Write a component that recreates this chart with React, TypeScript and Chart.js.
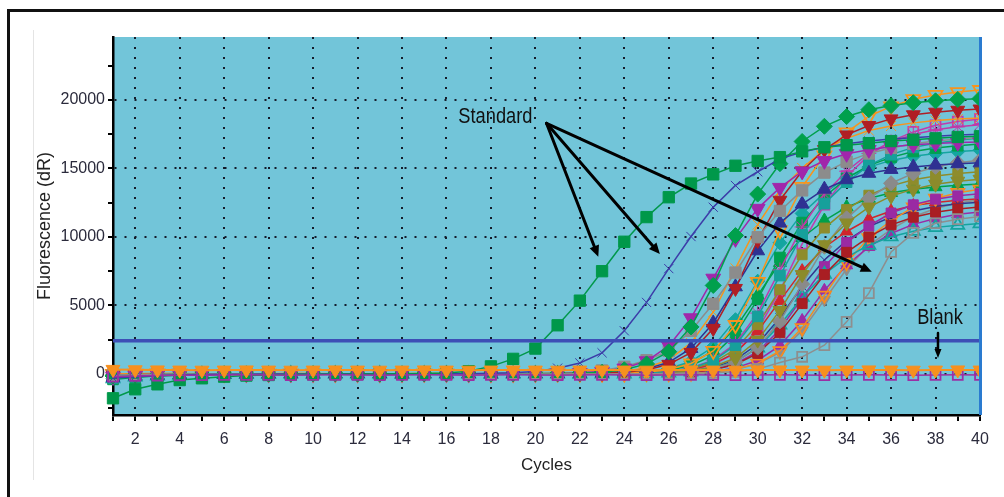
import React, { useEffect, useRef } from 'react';
import { Chart, registerables } from 'chart.js';

Chart.register(...registerables);

// ---------------- data ----------------
const cycles = [1,2,3,4,5,6,7,8,9,10,11,12,13,14,15,16,17,18,19,20,21,22,23,24,25,26,27,28,29,30,31,32,33,34,35,36,37,38,39,40];
const xLabelCycles = [2,4,6,8,10,12,14,16,18,20,22,24,26,28,30,32,34,36,38,40];
const yTickValues = [-2500,0,2500,5000,7500,10000,12500,15000,17500,20000,22500];
const yLabelValues = [0,5000,10000,15000,20000];
const thresholdValue = 2420;

// standards
const std1 = [-1780,-1120,-760,-450,-320,-200,-120,-80,-50,-30,-20,-10,0,10,30,60,200,550,1100,1850,3550,5350,7500,9650,11450,12900,13900,14570,15200,15550,15830,16250,16550,16700,16850,17000,17100,17200,17300,17350];
const std2 = [-300,-200,-120,-80,-50,-30,-20,-10,0,-10,0,10,0,-10,0,10,20,40,80,180,420,800,1540,3150,5220,7690,10030,12170,13760,14760,15700,16200,16550,16800,17000,17150,17250,17350,17450,17500];
const std3 = [-100,-60,-30,-10,0,10,0,-10,0,10,0,-10,0,10,0,-10,0,10,0,-10,0,10,0,10,20,30,50,80,150,350,830,1250,2100,3800,5900,8900,10300,11000,11300,11500];

// blanks
const blankOrange = [330,300,290,280,270,280,290,280,270,280,290,280,270,280,290,280,270,280,290,280,270,280,290,280,270,280,290,280,270,280,290,280,270,280,290,280,270,280,290,280];
const blankPurple = [-200,-150,-120,-100,-90,-80,-70,-80,-90,-80,-70,-80,-90,-80,-70,-80,-90,-80,-70,-80,-90,-80,-70,-80,-90,-80,-70,-80,-90,-80,-70,-80,-90,-80,-70,-80,-90,-80,-70,-80];

// samples
const s01 = [-150,-90,-50,-20,0,10,0,-10,0,10,20,0,-10,0,10,20,10,0,10,20,30,40,120,300,730,1620,3430,6460,10100,13130,15350,16970,18080,18790,19290,19590,19800,19940,20040,20100];
const s02 = [-200,-130,-80,-50,-30,-20,-10,0,-10,0,10,0,-10,0,10,0,-10,0,10,10,20,70,170,410,940,2040,4080,6970,9860,12070,13600,14790,15560,16070,16370,16580,16730,16830,16900,16930];
const s03 = [-100,-60,-30,-10,0,10,20,10,0,-10,0,10,20,10,0,10,20,30,40,50,60,100,250,520,1000,1680,3150,5120,7400,9980,11900,13400,14700,15500,16100,16500,16800,17000,17150,17250];
const s04 = [-80,-40,-20,0,10,0,-10,0,10,0,-10,0,10,20,10,0,-10,0,10,20,10,20,40,120,290,700,1560,3320,6240,9750,12680,14820,16380,17450,18140,18620,18920,19110,19250,19340];
const s05 = [-250,-160,-100,-60,-40,-30,-20,-10,0,-10,0,10,0,-10,0,10,0,-10,0,10,10,20,60,155,370,850,1860,3720,6360,8990,11010,12400,13490,14180,14650,14930,15110,15250,15350,15410];
const s06 = [0,20,30,20,10,0,10,20,30,20,10,0,10,20,30,20,10,0,10,20,30,20,30,40,130,320,760,1680,3570,6720,10500,13650,15960,17640,18800,19530,20060,20370,20580,20730];
const s07 = [-300,-200,-120,-70,-40,-20,-10,0,-10,0,10,0,-10,0,10,0,-10,0,10,0,10,10,10,20,70,175,420,960,2100,4200,7180,10150,12430,14000,15230,16010,16540,16850,17060,17220];
const s08 = [-60,-30,-10,0,10,20,10,0,-10,0,10,20,10,0,-10,0,10,20,10,0,10,20,20,20,30,90,220,520,1160,2470,4640,7250,9430,11020,12180,12980,13490,13850,14070,14210];
const s09 = [-120,-70,-40,-20,-10,0,10,0,-10,0,10,0,-10,0,10,0,-10,0,10,0,10,10,10,20,70,185,440,1020,2220,4440,7590,10730,13140,14800,16100,16930,17480,17820,18040,18200];
const s10 = [-400,-250,-150,-90,-50,-30,-20,-10,0,-10,0,10,0,-10,0,10,0,-10,0,10,0,10,20,30,100,260,610,1360,2890,5440,8500,11050,12920,14280,15220,15810,16240,16490,16660,16780];
const s11 = [-50,-20,0,10,20,10,0,-10,0,10,20,10,0,-10,0,10,20,10,0,-10,0,10,10,10,20,60,160,380,880,1920,3840,6560,9280,11360,12800,13920,14640,15120,15410,15600];
const s12 = [-180,-110,-70,-40,-20,-10,0,-10,0,10,0,-10,0,10,0,-10,0,10,0,-10,0,10,10,10,15,50,125,300,690,1500,3000,5130,7250,8880,10000,10880,11440,11810,12040,12190];
const s13 = [-350,-220,-140,-80,-50,-30,-20,-10,0,-10,0,10,0,-10,0,10,0,-10,0,10,0,-10,0,10,20,70,170,400,900,1900,3580,5600,7280,8510,9410,10020,10420,10700,10860,10980];
const s14 = [-260,-170,-110,-70,-40,-20,-10,0,-10,0,10,0,-10,0,10,0,-10,0,10,0,-10,0,10,10,15,55,135,320,740,1620,3240,5540,7830,9590,10800,11750,12350,12760,13000,13160];
const s15 = [0,10,20,30,20,10,0,10,20,30,20,10,0,10,20,30,20,10,0,10,20,30,20,20,10,15,55,140,340,770,1680,3360,5740,8120,9940,11200,12180,12810,13230,13480];
const s16 = [-100,-60,-30,-10,0,10,0,-10,0,10,0,-10,0,10,0,-10,0,10,0,-10,0,10,10,10,25,80,190,460,1020,2180,4100,6400,8320,9730,10750,11460,11900,12220,12420,12540];
const s17 = [-140,-90,-50,-30,-10,0,10,0,-10,0,10,0,-10,0,10,0,-10,0,10,0,10,10,10,15,60,150,360,830,1800,3600,6150,8700,10650,12000,13050,13730,14180,14450,14630,14760];
const s18 = [-200,-130,-80,-50,-30,-20,-10,0,-10,0,10,0,-10,0,10,0,-10,0,10,0,10,10,15,55,140,340,770,1680,3360,5740,8120,9940,11200,12180,12810,13230,13480,13650,13780,13860];
const s19 = [-90,-50,-20,0,10,0,-10,0,10,0,-10,0,10,0,-10,0,10,0,-10,0,10,10,10,15,50,130,310,720,1560,3120,5330,7540,9230,10400,11310,11900,12290,12520,12680,12790];
const s20 = [0,20,30,20,10,0,10,20,30,20,10,0,10,20,30,20,10,0,10,20,20,20,75,190,450,1030,2260,4510,7710,10900,13350,15040,16360,17200,17770,18100,18330,18500,18610,18690];
const s21 = [-320,-200,-120,-70,-40,-20,-10,0,-10,0,10,0,-10,0,10,0,-10,0,10,0,10,10,20,65,165,400,910,1980,3960,6770,9570,11720,13200,14360,15100,15590,15890,16090,16240,16340];
const s22 = [-150,-100,-60,-30,-10,0,-10,0,10,0,-10,0,10,0,-10,0,10,0,-10,0,10,0,10,10,10,25,75,180,440,980,2070,3900,6100,7930,9270,10250,10920,11350,11650,11830];
const s23 = [-60,-30,-10,0,10,0,-10,0,10,0,-10,0,10,0,-10,0,10,0,-10,0,10,0,10,10,10,15,50,130,320,730,1580,3170,5410,7660,9370,10560,11480,12080,12470,12710];
const s24 = [-30,0,10,20,10,0,-10,0,10,20,10,0,-10,0,10,20,10,0,-10,0,10,20,20,20,40,110,290,680,1520,3230,6080,9500,12350,14440,15960,17000,17670,18150,18430,18620];

// annotation anchors (data coordinates)
const standardLabel = { x: 18.2, y: 18320 };
const standardFrom = { x: 20.5, y: 18300 };
const standardTips = [
  { x: 22.83, y: 8560 },
  { x: 25.6, y: 8750 },
  { x: 35.13, y: 7460 },
];
const blankLabel = { x: 38.2, y: 3650 };
const blankFrom = { x: 38.11, y: 2990 };
const blankTip = { x: 38.11, y: 1160 };

// ---------------- styling ----------------
const FONT = "'Liberation Sans', Arial, Helvetica, sans-serif";
const PLOT_BG = '#72c5d9';
const DOT = 'rgba(15,20,35,0.95)';

type Spec = { data: number[]; color: string; style: string; r: number; rot?: number; open?: boolean; lw?: number };

const specs: Spec[] = [
  { data: blankOrange, color: '#f7901e', style: 'triangle', r: 8, rot: 180, lw: 2 },
  { data: blankPurple, color: '#9b2fa5', style: 'rect', r: 7, open: true },
  { data: std1, color: '#00984a', style: 'rect', r: 8 },
  { data: std2, color: '#3c3ca8', style: 'crossRot', r: 6.5 },
  { data: std3, color: '#8e8e8e', style: 'rect', r: 7, open: true },
  { data: s01, color: '#00a04c', style: 'rectRot', r: 8 },
  { data: s02, color: '#a126ab', style: 'triangle', r: 8.5, rot: 180 },
  { data: s03, color: '#8c8c8c', style: 'rect', r: 8 },
  { data: s04, color: '#b01e24', style: 'triangle', r: 8, rot: 180 },
  { data: s05, color: '#2f3192', style: 'triangle', r: 8 },
  { data: s06, color: '#f7941d', style: 'triangle', r: 8, rot: 180, open: true },
  { data: s07, color: '#16a09b', style: 'rect', r: 7.5 },
  { data: s08, color: '#8b8b2b', style: 'triangle', r: 8, rot: 180 },
  { data: s09, color: '#bf3aa8', style: 'star', r: 7.5 },
  { data: s10, color: '#00a050', style: 'rect', r: 7.5 },
  { data: s11, color: '#8a8a8a', style: 'rectRot', r: 7.5 },
  { data: s12, color: '#a91e23', style: 'rect', r: 7 },
  { data: s13, color: '#15a39e', style: 'triangle', r: 7.5, open: true },
  { data: s14, color: '#9a2aa3', style: 'rect', r: 7 },
  { data: s15, color: '#f68b1f', style: 'triangle', r: 7.5, rot: 180, open: true },
  { data: s16, color: '#33358f', style: 'crossRot', r: 6.5 },
  { data: s17, color: '#8e8c2c', style: 'rect', r: 7 },
  { data: s18, color: '#00a04a', style: 'triangle', r: 7.5 },
  { data: s19, color: '#d0262c', style: 'triangle', r: 7 },
  { data: s20, color: '#f7941d', style: 'crossRot', r: 7 },
  { data: s21, color: '#14a5a0', style: 'rectRot', r: 7 },
  { data: s22, color: '#9b2ca6', style: 'triangle', r: 7 },
  { data: s23, color: '#8d8d8d', style: 'triangle', r: 7, rot: 180 },
  { data: s24, color: '#c03cae', style: 'rect', r: 7, open: true },
];

function makeDataset(s: Spec) {
  return {
    data: s.data.map((v, i) => ({ x: cycles[i], y: v })),
    borderColor: s.color,
    backgroundColor: s.color,
    borderWidth: s.lw ?? 1.5,
    pointStyle: s.style,
    pointRadius: s.r,
    pointRotation: s.rot ?? 0,
    pointBackgroundColor: s.open ? 'rgba(0,0,0,0)' : s.color,
    pointBorderColor: s.color,
    pointBorderWidth: s.open ? 1.8 : 1,
    showLine: true,
    fill: false,
    tension: 0,
    clip: { left: 10, top: 10, right: 0, bottom: 10 },
  };
}

const decorPlugin = {
  id: 'decor',
  beforeDraw(chart: any) {
    const { ctx, chartArea: a } = chart;
    ctx.save();
    ctx.fillStyle = PLOT_BG;
    ctx.fillRect(a.left, a.top, a.right - a.left, a.bottom - a.top);
    ctx.restore();
  },
  afterDatasetsDraw(chart: any) {
    const { ctx, chartArea: a } = chart;
    ctx.save();
    ctx.strokeStyle = '#2a7bd0';
    ctx.lineWidth = 3;
    ctx.beginPath();
    ctx.moveTo(a.right + 0.5, a.top);
    ctx.lineTo(a.right + 0.5, a.bottom);
    ctx.stroke();
    ctx.restore();
  },
  afterDraw(chart: any) {
    const { ctx } = chart;
    const xs = chart.scales.x;
    const ys = chart.scales.y;
    const px = (p: { x: number; y: number }) => [xs.getPixelForValue(p.x), ys.getPixelForValue(p.y)];
    const arrow = (from: any, to: any, head: number, hw: number) => {
      const [x1, y1] = px(from);
      const [x2, y2] = px(to);
      const ang = Math.atan2(y2 - y1, x2 - x1);
      const bx = x2 - Math.cos(ang) * head;
      const by = y2 - Math.sin(ang) * head;
      ctx.beginPath();
      ctx.moveTo(x1, y1);
      ctx.lineTo(bx, by);
      ctx.stroke();
      ctx.beginPath();
      ctx.moveTo(x2, y2);
      ctx.lineTo(bx + Math.sin(ang) * hw, by - Math.cos(ang) * hw);
      ctx.lineTo(bx - Math.sin(ang) * hw, by + Math.cos(ang) * hw);
      ctx.closePath();
      ctx.fill();
    };
    ctx.save();
    ctx.strokeStyle = '#000';
    ctx.fillStyle = '#000';
    ctx.lineWidth = 3;
    ctx.lineCap = 'round';
    standardTips.forEach((t) => arrow(standardFrom, t, 11, 5));
    ctx.lineWidth = 2.5;
    arrow(blankFrom, blankTip, 9, 3.5);
    ctx.fillStyle = '#111';
    ctx.font = `22px ${FONT}`;
    ctx.textAlign = 'center';
    ctx.textBaseline = 'alphabetic';
    const squeeze = 0.83;
    const drawNarrow = (text: string, p: { x: number; y: number }) => {
      const [tx, ty] = px(p);
      ctx.save();
      ctx.translate(tx, ty);
      ctx.scale(squeeze, 1);
      ctx.fillText(text, 0, 0);
      ctx.restore();
    };
    drawNarrow('Standard', standardLabel);
    drawNarrow('Blank', blankLabel);
    ctx.restore();
  },
};

export default function App() {
  const ref = useRef<HTMLCanvasElement | null>(null);

  useEffect(() => {
    if (!ref.current) return;
    const datasets: any[] = [
      {
        data: [
          { x: cycles[0], y: thresholdValue },
          { x: cycles[cycles.length - 1], y: thresholdValue },
        ],
        borderColor: '#3d4fb6',
        borderWidth: 3.5,
        pointRadius: 0,
        showLine: true,
        fill: false,
      },
      ...specs.map(makeDataset),
    ];
    const chart = new Chart(ref.current, {
      type: 'line',
      data: { datasets },
      plugins: [decorPlugin],
      options: {
        animation: false,
        responsive: false,
        maintainAspectRatio: false,
        events: [],
        layout: { padding: { left: 0, top: 37, right: 24, bottom: 0 } },
        plugins: { legend: { display: false }, tooltip: { enabled: false } },
        scales: {
          x: {
            type: 'linear',
            min: 1,
            max: 40,
            afterFit: (s: any) => { s.height = 82; },
            ticks: {
              stepSize: 1,
              autoSkip: false,
              maxRotation: 0,
              padding: 9,
              color: '#2b2b3c',
              font: { family: FONT, size: 16 },
              callback: (v: any) => (xLabelCycles.includes(Number(v)) ? String(v) : ''),
            },
            grid: {
              color: (c: any) => (c.tick && xLabelCycles.includes(c.tick.value) ? DOT : 'rgba(0,0,0,0)'),
              lineWidth: 2,
              tickColor: '#000',
              tickWidth: 2,
              tickLength: 6,
            },
            border: { display: true, color: '#000', width: 2.5, dash: [2, 8] },
            title: {
              display: true,
              text: 'Cycles',
              color: '#222',
              font: { family: FONT, size: 17 },
              padding: { top: 0, bottom: 21 },
            },
          },
          y: {
            type: 'linear',
            min: -3000,
            max: 24600,
            afterFit: (s: any) => { s.width = 113; },
            afterBuildTicks: (s: any) => { s.ticks = yTickValues.map((v) => ({ value: v })); },
            ticks: {
              autoSkip: false,
              padding: 3,
              color: '#2b2b3c',
              font: { family: FONT, size: 16 },
              callback: (v: any) => (yLabelValues.includes(Number(v)) ? String(v) : ''),
            },
            grid: {
              color: (c: any) => (c.tick && yLabelValues.includes(c.tick.value) ? DOT : 'rgba(0,0,0,0)'),
              lineWidth: 2,
              tickColor: '#000',
              tickWidth: 2,
              tickLength: 5,
            },
            border: { display: true, color: '#000', width: 2.5, dash: [2, 8] },
            title: {
              display: true,
              text: 'Fluorescence (dR)',
              color: '#222',
              font: { family: FONT, size: 18 },
              padding: { top: 34, bottom: 0 },
            },
          },
        },
      } as any,
    });
    return () => chart.destroy();
  }, []);

  return (
    <div style={{ position: 'fixed', left: 0, top: 0, width: 1004, height: 497, background: '#fff', overflow: 'hidden' }}>
      <div style={{ position: 'absolute', left: 7, top: 9, width: 997, height: 3, background: '#111' }} />
      <div style={{ position: 'absolute', left: 7, top: 9, width: 3, height: 488, background: '#111' }} />
      <div style={{ position: 'absolute', left: 33, top: 30, width: 1, height: 450, background: '#e4e4e4' }} />
      <canvas ref={ref} width={1004} height={497} style={{ position: 'absolute', left: 0, top: 0, width: 1004, height: 497 }} />
    </div>
  );
}
